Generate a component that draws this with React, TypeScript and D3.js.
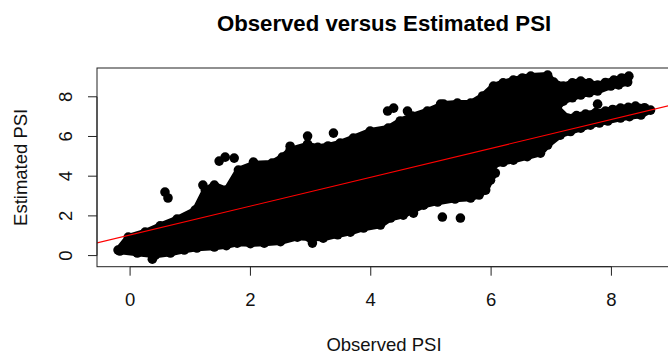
import React from "react";
import * as d3 from "d3";

// ---- data (data units) ----
const xTicks = [0, 2, 4, 6, 8];
const yTicks = [0, 2, 4, 6, 8];
const xLimits = [-0.55, 8.99];
const yLimits = [-0.56, 9.45];

// outline of the dense mass of overlapping points (centers of outermost points)
const massOutline: [number, number][] = [
  [-0.2, 0.28], [-0.03, 0.93], [0.25, 1.18], [0.5, 1.5], [0.78, 1.84], [1.08, 2.29],
  [1.25, 3.3], [1.4, 3.55], [1.6, 3.3], [1.8, 4.31], [2.06, 4.61],
  [2.36, 4.66], [2.53, 4.96], [2.66, 5.31], [2.95, 5.57], [3.12, 5.45], [3.29, 5.52],
  [3.49, 5.67], [3.71, 5.92], [3.99, 6.27], [4.29, 6.42], [4.49, 6.78],
  [4.69, 7.03], [4.94, 7.28], [5.21, 7.63], [5.44, 7.68], [5.66, 7.68],
  [5.86, 8.04], [6.04, 8.54], [6.2, 8.7], [6.37, 8.84], [6.52, 8.95], [6.66, 9.04], [6.94, 9.09],
  [7.04, 8.74], [7.2, 8.54], [7.35, 8.7], [7.49, 8.79], [7.63, 8.7], [7.77, 8.59], [7.9, 8.72], [8.04, 8.84],
  [8.17, 8.95], [8.29, 9.04], [8.27, 8.74], [8.12, 8.6], [7.99, 8.54], [7.77, 8.29], [7.63, 8.2], [7.49, 8.09],
  [7.35, 7.95], [7.2, 7.78], [7.1, 7.43], [7.27, 6.93], [7.42, 7.05], [7.57, 7.13], [7.74, 7.2], [7.9, 7.28],
  [8.02, 7.36], [8.15, 7.43], [8.28, 7.47], [8.4, 7.53], [8.55, 7.45], [8.65, 7.33], [8.49, 7.08], [8.3, 7.0], [8.15, 6.93],
  [7.94, 6.78], [7.8, 6.68], [7.65, 6.57], [7.49, 6.42], [7.32, 6.25], [7.15, 6.07], [6.94, 5.57],
  [6.82, 5.16], [6.6, 4.98], [6.37, 4.81], [6.2, 4.7], [6.04, 4.56], [5.94, 4.41], [6.07, 4.16],
  [5.99, 3.8], [5.91, 3.3], [5.8, 3.05], [5.66, 2.9], [5.4, 2.85], [5.11, 2.7], [4.88, 2.54],
  [4.54, 2.04], [4.33, 1.89], [4.16, 1.54], [3.88, 1.39], [3.66, 1.18], [3.45, 1.05],
  [3.21, 0.88], [2.98, 0.9], [2.78, 0.93], [2.5, 0.7], [2.23, 0.63], [2.0, 0.6], [1.78, 0.63], [1.6, 0.5], [1.4, 0.43],
  [1.11, 0.38], [0.9, 0.28], [0.67, 0.13], [0.42, 0.03], [0.12, 0.13], [-0.17, 0.23],
];

// individual points standing out of the mass
const looseX = [0.58, 0.63, 0.37, 1.48, 1.58, 1.73, 2.05, 1.21, 2.66, 2.95, 2.95, 3.38, 4.28, 4.38, 4.61, 5.16, 3.03, 5.19, 5.49, 4.71, 7.77];
const looseY = [3.2, 2.9, -0.18, 4.76, 4.96, 4.91, 4.71, 3.55, 5.51, 6.02, 5.62, 6.17, 7.28, 7.43, 7.28, 7.63, 0.63, 1.94, 1.89, 2.14, 7.63];

const fitIntercept = 1.04;
const fitSlope = 0.727;

// ---- layout ----
const W = 668, H = 354;
const left = 97, right = 671, top = 68, bottom = 266.7;
const R = 4.8;
const FONT = "'Liberation Sans', Arial, Helvetica, sans-serif";

export default function App() {
  const x = d3.scaleLinear().domain(xLimits).range([left, right]);
  const y = d3.scaleLinear().domain(yLimits).range([bottom, top]);
  const massPath = d3
    .line<[number, number]>()
    .x((d) => x(d[0]))
    .y((d) => y(d[1]))
    .curve(d3.curveLinearClosed)(massOutline) as string;
  const fitX = xLimits;
  const tickLen = 9;
  return (
    <svg
      width={W}
      height={H}
      style={{ position: "absolute", left: 0, top: 0, background: "#fff" }}
      fontFamily={FONT}
    >
      <defs>
        <clipPath id="plotclip">
          <rect x={left} y={top} width={right - left} height={bottom - top} />
        </clipPath>
      </defs>
      <rect x={0} y={0} width={W} height={H} fill="#fff" />
      <text x={(left + right) / 2} y={31} textAnchor="middle" fontSize={22.2} fontWeight="bold" fill="#000">
        Observed versus Estimated PSI
      </text>
      <g clipPath="url(#plotclip)">
        <path d={massPath} fill="#000" stroke="#000" strokeWidth={2 * R - 3.2} strokeLinejoin="round" />
        {massOutline.map((d, i) => (
          <circle key={"m" + i} cx={x(d[0])} cy={y(d[1])} r={R} fill="#000" />
        ))}
        {looseX.map((v, i) => (
          <circle key={i} cx={x(v)} cy={y(looseY[i])} r={R} fill="#000" />
        ))}
        <line
          x1={x(fitX[0])}
          y1={y(fitIntercept + fitSlope * fitX[0])}
          x2={x(fitX[1])}
          y2={y(fitIntercept + fitSlope * fitX[1])}
          stroke="#ff0000"
          strokeWidth={1.1}
        />
      </g>
      <rect x={left} y={top} width={right - left} height={bottom - top} fill="none" stroke="#222" strokeWidth={1} />
      {/* x axis */}
      <line x1={x(xTicks[0])} x2={x(xTicks[xTicks.length - 1])} y1={bottom} y2={bottom} stroke="#222" />
      {xTicks.map((t) => (
        <g key={"x" + t}>
          <line x1={x(t)} x2={x(t)} y1={bottom} y2={bottom + tickLen} stroke="#222" />
          <text x={x(t)} y={306} textAnchor="middle" fontSize={18.5} fill="#111">
            {t}
          </text>
        </g>
      ))}
      {/* y axis */}
      <line x1={left} x2={left} y1={y(yTicks[0])} y2={y(yTicks[yTicks.length - 1])} stroke="#222" />
      {yTicks.map((t) => (
        <g key={"y" + t}>
          <line x1={left - tickLen} x2={left} y1={y(t)} y2={y(t)} stroke="#222" />
          <text
            transform={`translate(${72},${y(t)}) rotate(-90)`}
            textAnchor="middle"
            fontSize={18.5}
            fill="#111"
          >
            {t}
          </text>
        </g>
      ))}
      <text x={(left + right) / 2} y={351} textAnchor="middle" fontSize={18.5} fill="#111">
        Observed PSI
      </text>
      <text
        transform={`translate(${27},${(top + bottom) / 2}) rotate(-90)`}
        textAnchor="middle"
        fontSize={18.5}
        fill="#111"
      >
        Estimated PSI
      </text>
    </svg>
  );
}
